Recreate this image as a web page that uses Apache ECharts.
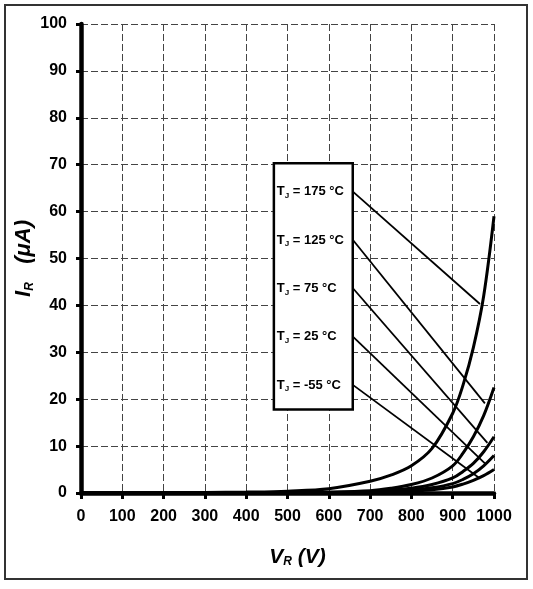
<!DOCTYPE html>
<html>
<head>
<meta charset="utf-8">
<script src="https://cdn.jsdelivr.net/npm/echarts@6/dist/echarts.min.js"></script>
<style>html,body{margin:0;padding:0;background:#fff}#c{width:533px;height:589px}</style>
</head>
<body>
<div id="c"></div>
<script>
var FONT = "'Liberation Sans', Arial, sans-serif";

// Reverse voltage (V)
var voltages = [0, 100, 200, 300, 400, 500, 600, 700, 750, 800, 850, 900, 925, 950, 975, 1000];
// Reverse current (uA) per junction temperature
var ir175 = [0, 0, 0.05, 0.1, 0.2, 0.4, 0.9, 2.5, 3.8, 5.8, 9.5, 17, 23, 31, 42, 59];
var ir125 = [0, 0, 0, 0.02, 0.05, 0.1, 0.2, 0.5, 1, 1.8, 3.2, 5.8, 8.5, 12, 16.5, 22.5];
var ir75  = [0, 0, 0, 0, 0.02, 0.05, 0.1, 0.3, 0.6, 1, 1.8, 3.2, 4.6, 6.3, 8.8, 12];
var ir25  = [0, 0, 0, 0, 0, 0.02, 0.05, 0.15, 0.35, 0.6, 1.1, 2, 2.9, 4.1, 5.8, 8];
var irm55 = [0, 0, 0, 0, 0, 0.01, 0.03, 0.1, 0.2, 0.4, 0.7, 1.3, 1.9, 2.7, 3.7, 5];

// Annotation: temperature labels, box and arrows (data coordinates)
var tempLabels = ['175', '125', '75', '25', '-55'];
var labelV = 474;
var labelI = [64.2, 53.9, 43.6, 33.3, 23.0];
var arrowStartV = 659;
var arrowEnd = [[966, 40.3], [978, 19.1], [984, 10.7], [978, 6.3], [966, 3.1]];
var boxCorners = [[467, 70.3], [658, 17.8]];

function pairs(ys) { return voltages.map(function (v, i) { return [v, ys[i]]; }); }

function curve(ys) {
  return {
    type: 'line', data: pairs(ys), smooth: 0.35,
    symbol: 'none', lineStyle: { color: '#000', width: 3 }, z: 3
  };
}

var chart = echarts.init(document.getElementById('c'), null, { renderer: 'canvas' });

var option = {
  animation: false,
  backgroundColor: '#fff',
  graphic: [{
    type: 'rect', shape: { x: 5, y: 5, width: 522, height: 574 },
    style: { fill: 'none', stroke: '#333', lineWidth: 2 }, silent: true, z: -1
  }],
  grid: { left: 81, right: 39, top: 24, bottom: 96, containLabel: false, outerBoundsMode: 'none' },
  xAxis: {
    type: 'value', min: 0, max: 1000, interval: 100,
    name: '{a|V}{b|R}{a| (V)}', nameLocation: 'middle', nameGap: 53,
    nameTextStyle: {
      padding: [0, 0, 0, 20],
      rich: {
        a: { fontFamily: FONT, fontSize: 21, fontWeight: 'bold', fontStyle: 'italic', color: '#000', lineHeight: 22 },
        b: { fontFamily: FONT, fontSize: 12, fontWeight: 'bold', fontStyle: 'italic', color: '#000', lineHeight: 10, verticalAlign: 'bottom' }
      }
    },
    axisLine: { show: true, onZero: false, lineStyle: { color: '#000', width: 4.5 } },
    axisTick: { show: true, length: 6, lineStyle: { color: '#000', width: 3 } },
    axisLabel: {
      margin: 16, color: '#000', fontFamily: FONT, fontSize: 16, fontWeight: 'bold',
      formatter: function (v) { return String(v); }
    },
    splitLine: { show: true, lineStyle: { color: '#444', width: 1, type: [7, 3] } }
  },
  yAxis: {
    type: 'value', min: 0, max: 100, interval: 10,
    name: '{a|I}{b|R}{a|   (μA)}', nameLocation: 'middle', nameGap: 45, nameMoveOverlap: false,
    nameTextStyle: {
      rich: {
        a: { fontFamily: FONT, fontSize: 22, fontWeight: 'bold', fontStyle: 'italic', color: '#000', lineHeight: 24 },
        b: { fontFamily: FONT, fontSize: 12, fontWeight: 'bold', fontStyle: 'italic', color: '#000', lineHeight: 10, verticalAlign: 'bottom' }
      }
    },
    axisLine: { show: true, onZero: false, lineStyle: { color: '#000', width: 4.5 } },
    axisTick: { show: true, length: 5, lineStyle: { color: '#000', width: 3 } },
    axisLabel: { margin: 14, color: '#000', fontFamily: FONT, fontSize: 16, fontWeight: 'bold' },
    splitLine: { show: true, lineStyle: { color: '#444', width: 1, type: [7, 3] } }
  },
  series: [
    curve(ir175), curve(ir125), curve(ir75), curve(ir25), curve(irm55),
    {
      type: 'scatter', z: 5,
      data: labelI.map(function (y, i) { return { value: [labelV, y], name: tempLabels[i] }; }),
      symbolSize: 0,
      itemStyle: { color: '#000', opacity: 1 },
      label: {
        show: true, position: 'right', distance: 0, color: '#000', opacity: 1,
        formatter: function (p) { return '{t|T}{s|J}{t| = ' + p.name + ' °C}'; },
        rich: {
          t: { fontFamily: FONT, fontSize: 13, fontWeight: 'bold', color: '#000', lineHeight: 16 },
          s: { fontFamily: FONT, fontSize: 8, fontWeight: 'bold', color: '#000', lineHeight: 8, verticalAlign: 'bottom' }
        }
      },
      markArea: {
        silent: true,
        itemStyle: { color: '#fff', borderColor: '#000', borderWidth: 2.5 },
        label: { show: false },
        data: [[{ coord: boxCorners[0] }, { coord: boxCorners[1] }]]
      },
      markLine: {
        silent: true,
        symbol: ['none', 'arrow'], symbolSize: [0, 9],
        lineStyle: { color: '#000', width: 1.8, type: 'solid' },
        label: { show: false },
        data: arrowEnd.map(function (e, i) {
          return [{ coord: [arrowStartV, labelI[i]] }, { coord: e }];
        })
      }
    }
  ]
};
chart.setOption(option);
</script>
</body>
</html>
